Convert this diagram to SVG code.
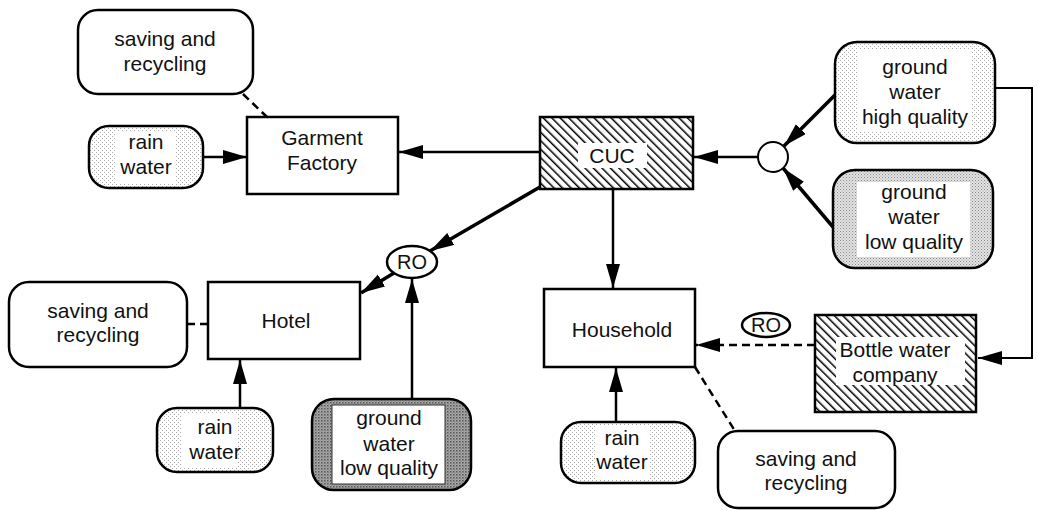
<svg xmlns="http://www.w3.org/2000/svg" width="1038" height="510" viewBox="0 0 1038 510">
<style>
.box{fill:#fff;stroke:#000;stroke-width:2.5}
.rbox{stroke:#000;stroke-width:2.5}
.t{font-family:"Liberation Sans",Arial,sans-serif;font-size:21px;fill:#111;text-anchor:middle}
.ln{fill:none;stroke:#000;stroke-width:2.5}
.thick{fill:none;stroke:#000;stroke-width:3.5}
.dash{fill:none;stroke:#000;stroke-width:2.5;stroke-dasharray:8 5}
.thin{fill:none;stroke:#000;stroke-width:2}
</style>
<defs>
<pattern id="hatch" width="6" height="6" patternUnits="userSpaceOnUse" patternTransform="rotate(-45)">
<rect width="6" height="6" fill="#fff"/>
<line x1="0" y1="0" x2="0" y2="6" stroke="#000" stroke-width="3"/>
</pattern>
<pattern id="dotsL" width="4" height="4" patternUnits="userSpaceOnUse">
<rect width="4" height="4" fill="#fff"/>
<rect x="0" y="0" width="1" height="1" fill="#aaa"/>
<rect x="2" y="2" width="1" height="1" fill="#aaa"/>
</pattern>
<pattern id="dotsM" width="3" height="3" patternUnits="userSpaceOnUse">
<rect width="3" height="3" fill="#e4e4e4"/>
<rect x="0" y="0" width="1" height="1" fill="#888"/>
<rect x="1.5" y="1.5" width="1" height="1" fill="#999"/>
</pattern>
<pattern id="dotsD" width="3" height="3" patternUnits="userSpaceOnUse">
<rect width="3" height="3" fill="#aaa"/>
<rect x="0" y="0" width="1.5" height="1.5" fill="#555"/>
<rect x="1.5" y="1.5" width="1" height="1" fill="#666"/>
</pattern>
<marker id="arr" markerUnits="userSpaceOnUse" markerWidth="26" markerHeight="16" refX="24" refY="7" orient="auto">
<path d="M0,0 L24,7 L0,14 z" fill="#000"/>
</marker>
</defs>

<g id="connectors">
<line class="ln" x1="203" y1="157" x2="247" y2="157" marker-end="url(#arr)"/>
<line class="dash" x1="243" y1="94" x2="267" y2="117"/>
<line class="ln" x1="540" y1="152" x2="399" y2="152" marker-end="url(#arr)"/>
<line class="ln" x1="758" y1="157" x2="694" y2="157" marker-end="url(#arr)"/>
<line class="thick" x1="835" y1="95" x2="784" y2="146" marker-end="url(#arr)"/>
<line class="thick" x1="833" y1="227" x2="783" y2="168" marker-end="url(#arr)"/>
<line class="thick" x1="540" y1="187" x2="430" y2="251" marker-end="url(#arr)"/>
<line class="thick" x1="394" y1="273" x2="361" y2="293" marker-end="url(#arr)"/>
<line class="ln" x1="412" y1="399" x2="412" y2="279" marker-end="url(#arr)"/>
<line class="ln" x1="240" y1="408" x2="240" y2="360" marker-end="url(#arr)"/>
<line class="dash" x1="187" y1="324" x2="208" y2="324"/>
<line class="ln" x1="613" y1="189" x2="613" y2="288" marker-end="url(#arr)"/>
<line class="ln" x1="616" y1="422" x2="616" y2="368" marker-end="url(#arr)"/>
<line class="dash" x1="695" y1="367" x2="735" y2="431"/>
<line class="dash" x1="815" y1="345" x2="696" y2="345" marker-end="url(#arr)"/>
<polyline class="thin" points="995,88 1032,88 1032,358 978,358" marker-end="url(#arr)"/>
</g>

<g id="saving-top">
<rect class="box" x="78" y="10" width="175" height="84" rx="20"/>
<text class="t" x="165" y="46">saving and</text>
<text class="t" x="165" y="71">recycling</text>
</g>

<g id="rain-top">
<rect class="rbox" x="89" y="126" width="114" height="62" rx="20" fill="url(#dotsL)"/>
<rect x="115" y="131" width="60" height="52" fill="#fff"/>
<text class="t" x="146" y="149">rain</text>
<text class="t" x="146" y="174">water</text>
</g>

<g id="garment">
<rect class="box" x="247" y="117" width="151" height="77"/>
<text class="t" x="322" y="145">Garment</text>
<text class="t" x="322" y="170">Factory</text>
</g>

<g id="cuc">
<rect x="540" y="117" width="153" height="72" fill="url(#hatch)" stroke="#000" stroke-width="2.5"/>
<rect x="578" y="143" width="69" height="25" fill="#fff"/>
<text class="t" x="612" y="163">CUC</text>
</g>

<g id="junction">
<circle cx="773" cy="157" r="15" fill="#fff" stroke="#000" stroke-width="2"/>
</g>

<g id="ground-high">
<rect class="rbox" x="835" y="42" width="160" height="101" rx="22" fill="url(#dotsL)"/>
<rect x="858" y="50" width="114" height="82" fill="#fff"/>
<text class="t" x="915" y="74">ground</text>
<text class="t" x="915" y="99">water</text>
<text class="t" x="915" y="124">high quality</text>
</g>

<g id="ground-low-right">
<rect class="rbox" x="833" y="170" width="160" height="98" rx="22" fill="url(#dotsM)"/>
<rect x="857" y="182" width="113" height="75" fill="#fff"/>
<text class="t" x="914" y="199">ground</text>
<text class="t" x="914" y="224">water</text>
<text class="t" x="914" y="249">low quality</text>
</g>

<g id="ro-left">
<ellipse cx="412" cy="262" rx="25" ry="16" fill="#fff" stroke="#000" stroke-width="2.5"/>
<text class="t" x="412" y="269" style="font-size:20px">RO</text>
</g>

<g id="saving-left">
<rect class="box" x="9" y="282" width="178" height="85" rx="20"/>
<text class="t" x="98" y="318">saving and</text>
<text class="t" x="98" y="342">recycling</text>
</g>

<g id="hotel">
<rect class="box" x="208" y="282" width="152" height="77"/>
<text class="t" x="286" y="328">Hotel</text>
</g>

<g id="rain-hotel">
<rect class="rbox" x="157" y="408" width="116" height="64" rx="20" fill="url(#dotsL)"/>
<rect x="182" y="413" width="56" height="54" fill="#fff"/>
<text class="t" x="215" y="434">rain</text>
<text class="t" x="215" y="459">water</text>
</g>

<g id="ground-low-bottom">
<rect class="rbox" x="312" y="399" width="159" height="91" rx="22" fill="url(#dotsD)"/>
<rect x="332" y="405" width="113" height="79" fill="#fff" stroke="#333" stroke-width="1"/>
<text class="t" x="389" y="425">ground</text>
<text class="t" x="389" y="451">water</text>
<text class="t" x="389" y="475">low quality</text>
</g>

<g id="household">
<rect class="box" x="544" y="289" width="151" height="78"/>
<text class="t" x="622" y="337">Household</text>
</g>

<g id="ro-right">
<ellipse cx="766" cy="325" rx="24" ry="12" fill="#fff" stroke="#000" stroke-width="2.5"/>
<text class="t" x="766" y="332" style="font-size:20px">RO</text>
</g>

<g id="bottle">
<rect x="815" y="315" width="161" height="97" fill="url(#hatch)" stroke="#000" stroke-width="2.5"/>
<rect x="836" y="337" width="129" height="48" fill="#fff"/>
<text class="t" x="895" y="357">Bottle water</text>
<text class="t" x="895" y="382">company</text>
</g>

<g id="rain-household">
<rect class="rbox" x="561" y="422" width="134" height="61" rx="20" fill="url(#dotsL)"/>
<rect x="595" y="426" width="55" height="53" fill="#fff"/>
<text class="t" x="622" y="445">rain</text>
<text class="t" x="622" y="469">water</text>
</g>

<g id="saving-right">
<rect class="box" x="718" y="431" width="177" height="77" rx="20"/>
<text class="t" x="806" y="466">saving and</text>
<text class="t" x="806" y="490">recycling</text>
</g>
</svg>
